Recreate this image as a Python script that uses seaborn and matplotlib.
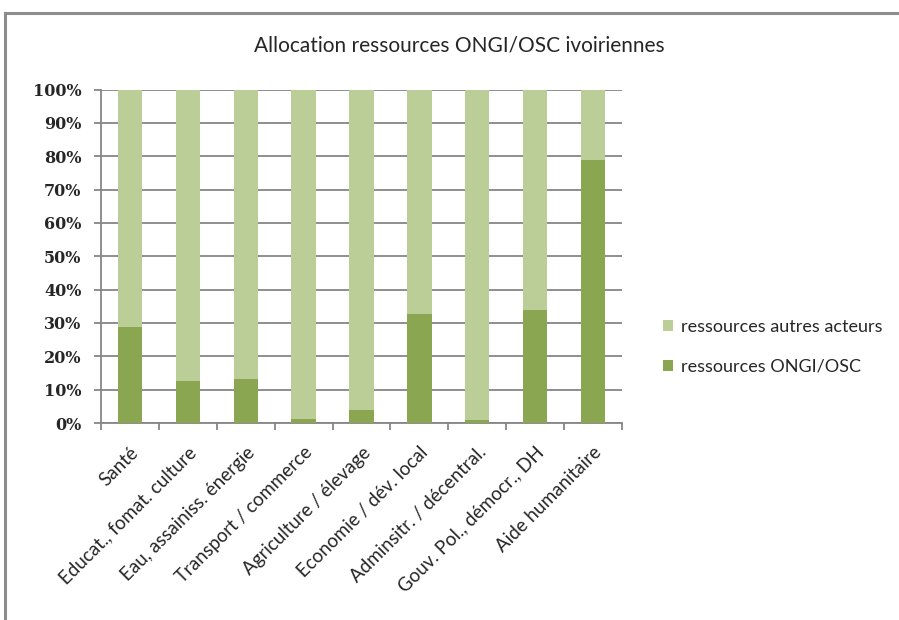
import matplotlib
matplotlib.use("Agg")
import matplotlib.pyplot as plt
from matplotlib.patches import Patch, Rectangle
from matplotlib.ticker import FixedLocator, PercentFormatter
import seaborn as sns
import pandas as pd

# Sectors and share of resources (%) held by ONGI/OSC; the rest goes to other actors
categories = [
    "Santé",
    "Educat., fomat. culture",
    "Eau, assainiss. énergie",
    "Transport / commerce",
    "Agriculture / élevage",
    "Economie / dév. local",
    "Adminsitr. / décentral.",
    "Gouv. Pol., démocr., DH",
    "Aide humanitaire",
]
ongi_osc = [28.8, 12.6, 13.2, 1.2, 3.9, 32.7, 0.9, 33.9, 78.9]
autres_acteurs = [100 - v for v in ongi_osc]
series_labels = ["ressources autres acteurs", "ressources ONGI/OSC"]
title = "Allocation ressources ONGI/OSC ivoiriennes"

light_green = "#BBCE97"
dark_green = "#8AA650"
grid_grey = "#868686"

df = pd.DataFrame({
    "secteur": categories,
    "ongi": ongi_osc,
    "autres": autres_acteurs,
})
df["total"] = df["ongi"] + df["autres"]

sns.set_theme(style="white")
plt.rcParams["font.family"] = ["Lato", "DejaVu Sans"]

fig = plt.figure(figsize=(8.99, 6.20), dpi=100)
ax = fig.add_axes([101 / 899, 1 - 423 / 620, (622 - 101) / 899, (423 - 89.5) / 620])

# stacked bars: full column in light green, ONGI/OSC part drawn over it
sns.barplot(data=df, x="secteur", y="total", color=light_green, width=0.42,
            saturation=1, linewidth=0, ax=ax, zorder=3)
sns.barplot(data=df, x="secteur", y="ongi", color=dark_green, width=0.42,
            saturation=1, linewidth=0, ax=ax, zorder=4)

ax.set_xlim(-0.5, len(categories) - 0.5)
ax.set_ylim(0, 100)
ax.set_xlabel("")
ax.set_ylabel("")

ax.yaxis.set_major_locator(FixedLocator(range(0, 101, 10)))
ax.yaxis.set_major_formatter(PercentFormatter(decimals=0))
ax.yaxis.grid(True, color=grid_grey, linewidth=1.3, zorder=0)
ax.set_axisbelow(True)

for side in ["top", "right"]:
    ax.spines[side].set_visible(False)
for side in ["left", "bottom"]:
    ax.spines[side].set_color(grid_grey)
    ax.spines[side].set_linewidth(1.3)

ax.tick_params(axis="y", which="major", left=True, length=5, width=1.3,
               color=grid_grey, pad=9, labelsize=11.5)
for lbl in ax.get_yticklabels():
    lbl.set_family(["DejaVu Serif"])
    lbl.set_fontweight("bold")

# x tick marks sit between the categories
ax.xaxis.set_minor_locator(FixedLocator([i - 0.5 for i in range(len(categories) + 1)]))
ax.tick_params(axis="x", which="minor", bottom=True, length=5, width=1.3, color=grid_grey)
ax.set_xticks(range(len(categories)))
ax.set_xticklabels(categories, rotation=45, ha="right", rotation_mode="anchor")
ax.tick_params(axis="x", which="major", bottom=False, length=0, pad=15, labelsize=13.5)

fig.text(0.511, 1 - 45 / 620, title, ha="center", va="center", fontsize=15)

handles = [Patch(facecolor=light_green, edgecolor="none"),
           Patch(facecolor=dark_green, edgecolor="none")]
fig.legend(handles, series_labels, loc="center left",
           bbox_to_anchor=(647 / 899, 1 - 347 / 620), frameon=False,
           fontsize=13, handlelength=0.55, handleheight=0.55,
           handletextpad=0.45, labelspacing=1.3)

# outer chart frame (top and left edges visible)
fig.patches.append(Rectangle((5 / 899, -0.1), 1.2, 1.1 - 12.5 / 620,
                             transform=fig.transFigure, fill=False,
                             edgecolor="#8C8C8C", linewidth=2.2, zorder=10))

fig.savefig("out.png", dpi=100)
